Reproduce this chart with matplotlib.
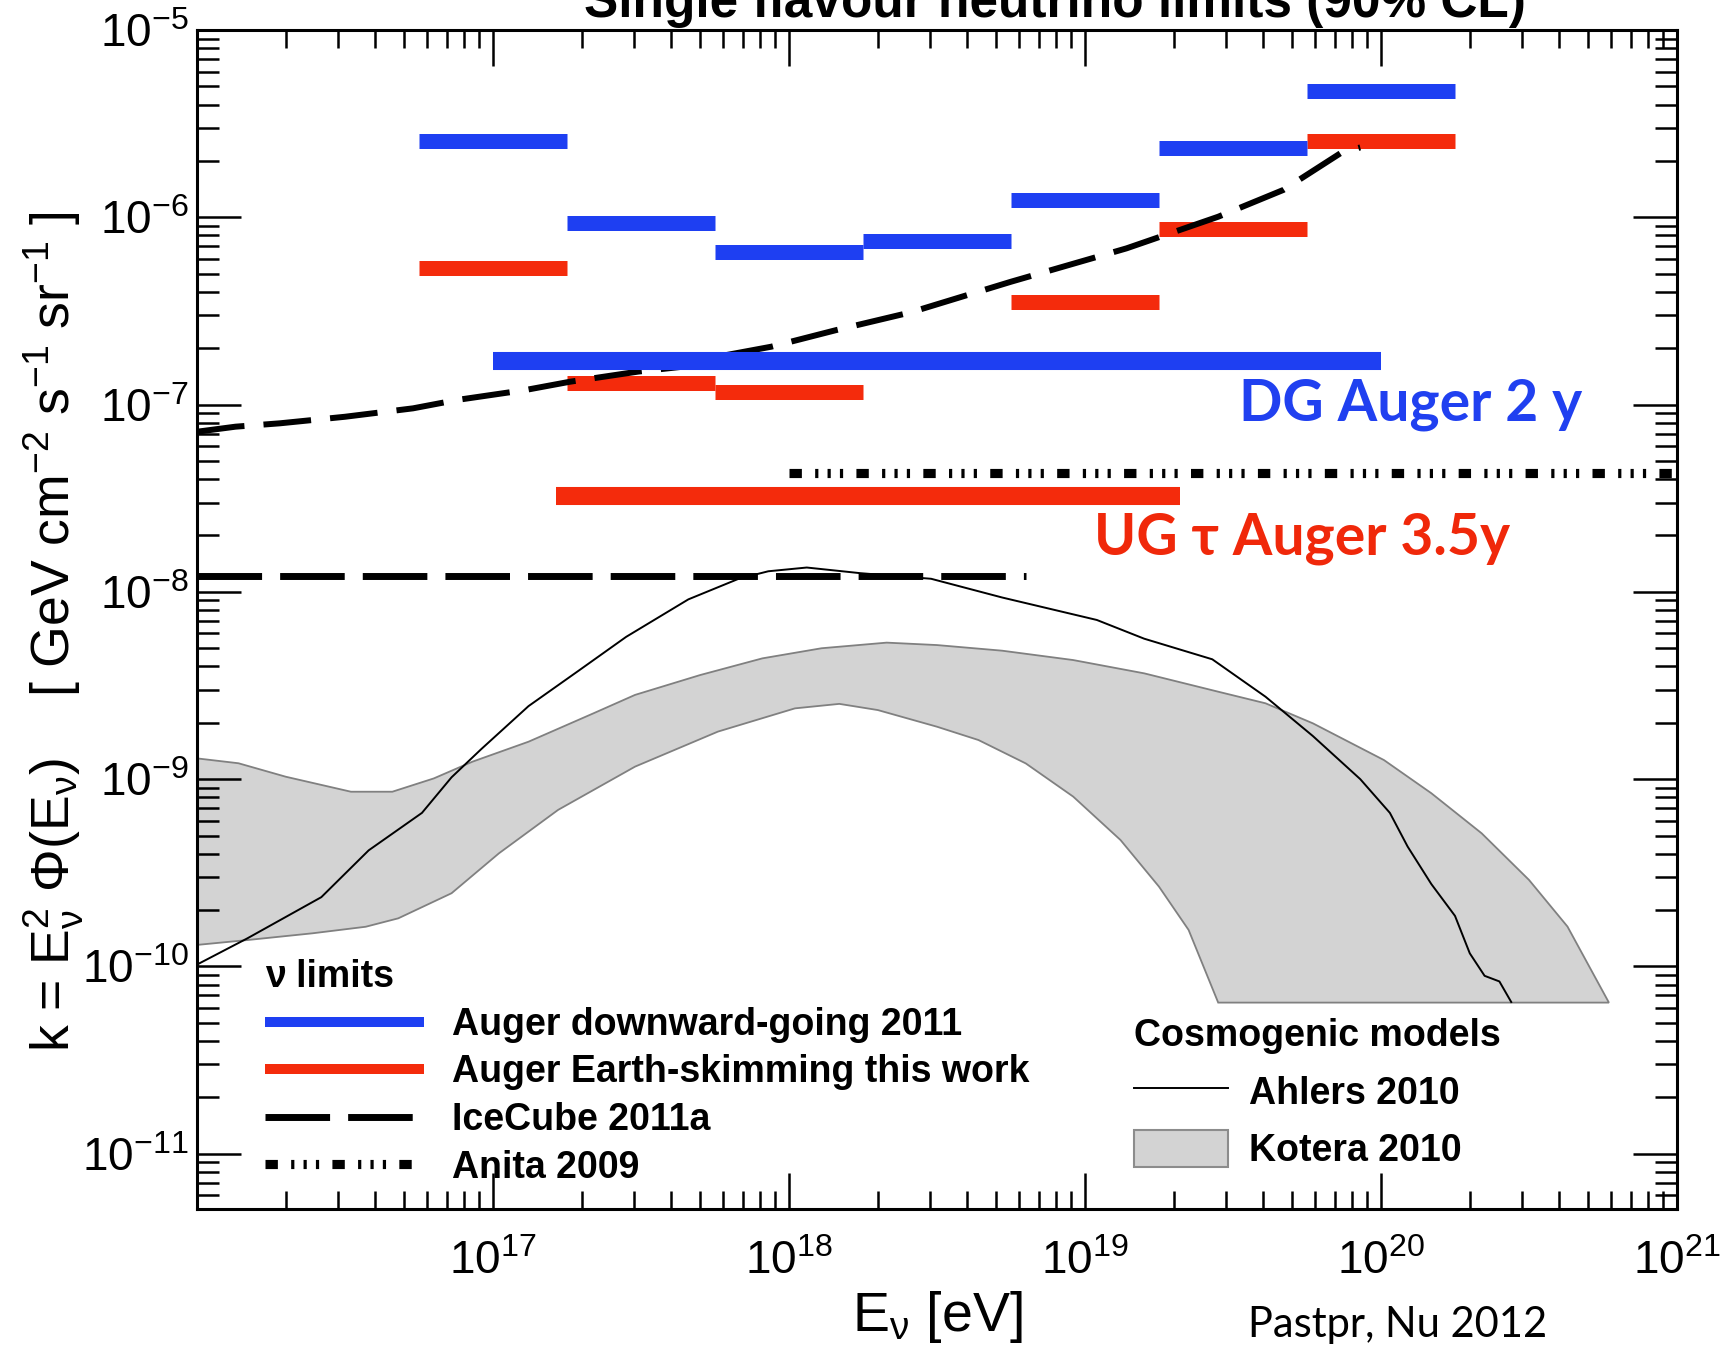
import numpy as np
import matplotlib
matplotlib.use("Agg")
import matplotlib.pyplot as plt
from matplotlib import font_manager as fm
from matplotlib.font_manager import FontProperties
from matplotlib.lines import Line2D
from matplotlib.patches import Patch
from matplotlib.ticker import LogLocator, NullFormatter, FixedLocator, FixedFormatter

# ------------------------------------------------------------------ data
# Auger downward-going 2011 (differential, half-decade bins) [eV], [GeV cm^-2 s^-1 sr^-1]
dg_E_lo = [5.62e16, 1.78e17, 5.62e17, 1.78e18, 5.62e18, 1.78e19, 5.62e19]
dg_E_hi = [1.78e17, 5.62e17, 1.78e18, 5.62e18, 1.78e19, 5.62e19, 1.78e20]
dg_k = [2.54e-6, 9.3e-7, 6.5e-7, 7.5e-7, 1.23e-6, 2.33e-6, 4.74e-6]
# Auger downward-going integrated (DG Auger 2 y)
dg_int_E = [1.0e17, 1.0e20]
dg_int_k = 1.71e-7

# Auger Earth-skimming (this work), differential
es_E_lo = [5.62e16, 1.78e17, 5.62e17, 5.62e18, 1.78e19, 5.62e19]
es_E_hi = [1.78e17, 5.62e17, 1.78e18, 1.78e19, 5.62e19, 1.78e20]
es_k = [5.33e-7, 1.30e-7, 1.17e-7, 3.52e-7, 8.66e-7, 2.55e-6]
# Earth-skimming integrated (UG tau Auger 3.5 y)
es_int_E = [1.63e17, 2.09e19]
es_int_k = 3.27e-8

# IceCube 2011a integrated and differential limits
ic_int_E = [1.0e16, 6.3e18]
ic_int_k = 1.21e-8
ic_diff_logE = [16.0, 16.13, 16.28, 16.5, 16.73, 16.88, 17.11, 17.26, 17.49, 17.64,
                17.79, 17.94, 18.16, 18.41, 18.75, 19.14, 19.45, 19.67, 19.87, 19.93]
ic_diff_logk = [-7.145, -7.118, -7.100, -7.065, -7.020, -6.975, -6.922, -6.878, -6.824, -6.798,
                -6.735, -6.691, -6.602, -6.508, -6.344, -6.166, -5.997, -5.854, -5.651, -5.627]

# Anita 2009
anita_E = [1.0e18, 1.0e21]
anita_k = 4.33e-8

# Ahlers 2010 cosmogenic model
ahlers_logE = [16.0, 16.17, 16.42, 16.58, 16.76, 16.86, 16.96, 17.12, 17.29, 17.45, 17.66,
               17.83, 17.93, 18.06, 18.24, 18.48, 18.72, 19.04, 19.20, 19.43, 19.61, 19.77,
               19.93, 20.03, 20.09, 20.17, 20.25, 20.30, 20.35, 20.40, 20.44]
ahlers_logk = [-9.99, -9.85, -9.63, -9.38, -9.18, -8.99, -8.84, -8.61, -8.42, -8.24, -8.04,
               -7.93, -7.89, -7.87, -7.90, -7.93, -8.03, -8.15, -8.25, -8.36, -8.56, -8.77,
               -9.00, -9.18, -9.36, -9.56, -9.73, -9.93, -10.05, -10.08, -10.19]

# Kotera 2010 band (upper and lower edges)
kot_up_logE = [16.0, 16.14, 16.30, 16.52, 16.66, 16.80, 16.93, 17.12, 17.34, 17.48, 17.70,
               17.91, 18.11, 18.33, 18.50, 18.72, 18.96, 19.20, 19.45, 19.61, 19.77, 20.01,
               20.17, 20.34, 20.50, 20.63, 20.71, 20.77]
kot_up_logk = [-8.889, -8.915, -8.987, -9.067, -9.067, -8.996, -8.907, -8.800, -8.648, -8.550,
               -8.444, -8.355, -8.301, -8.271, -8.284, -8.314, -8.364, -8.435, -8.533, -8.595,
               -8.702, -8.898, -9.075, -9.289, -9.538, -9.787, -10.019, -10.193]
kot_lo_logE = [16.0, 16.17, 16.39, 16.57, 16.68, 16.86, 17.02, 17.22, 17.48, 17.76, 18.02,
               18.17, 18.30, 18.50, 18.64, 18.80, 18.96, 19.12, 19.25, 19.35, 19.45]
kot_lo_logk = [-9.885, -9.859, -9.823, -9.788, -9.743, -9.609, -9.396, -9.164, -8.933, -8.746,
               -8.622, -8.598, -8.631, -8.720, -8.791, -8.916, -9.093, -9.325, -9.574, -9.805,
               -10.193]

xtick_vals = [1e16, 1e17, 1e18, 1e19, 1e20, 1e21]
xtick_labels = ["", "$10^{17}$", "$10^{18}$", "$10^{19}$", "$10^{20}$", "$10^{21}$"]
ytick_vals = [1e-11, 1e-10, 1e-9, 1e-8, 1e-7, 1e-6, 1e-5]
ytick_labels = ["$10^{-11}$", "$10^{-10}$", "$10^{-9}$", "$10^{-8}$", "$10^{-7}$", "$10^{-6}$", "$10^{-5}$"]

# ------------------------------------------------------------------ style
names = {f.name for f in fm.fontManager.ttflist}
if "Liberation Sans Narrow" in names:
    NARROW, S = "Liberation Sans Narrow", 1.19
else:
    NARROW, S = "Liberation Sans", 1.0
CAL = ["Lato", "Noto Sans", "DejaVu Sans"]

plt.rcParams["font.family"] = [NARROW, "DejaVu Sans"]
plt.rcParams["mathtext.default"] = "regular"
plt.rcParams["axes.unicode_minus"] = False

BLUE = "#1E3FF2"
RED = "#F42B0C"

fig = plt.figure(figsize=(17.32, 13.51), dpi=100)
ax = fig.add_axes([197 / 1732, 142 / 1351, 1480 / 1732, 1179 / 1351])
ax.set_xscale("log")
ax.set_yscale("log")
ax.set_xlim(1e16, 1e21)
ax.set_ylim(5.07e-12, 1e-5)

# Kotera band
band_x = np.concatenate([10 ** np.array(kot_up_logE), 10 ** np.array(kot_lo_logE)[::-1]])
band_y = np.concatenate([10 ** np.array(kot_up_logk), 10 ** np.array(kot_lo_logk)[::-1]])
ax.fill(band_x, band_y, facecolor="#D3D3D3", edgecolor="#808080", lw=1.3, zorder=1)

# Ahlers
ax.plot(10 ** np.array(ahlers_logE), 10 ** np.array(ahlers_logk), color="black", lw=1.4, zorder=2)

# IceCube 2011a
ax.hlines(ic_int_k, ic_int_E[0], ic_int_E[1], colors="black", lw=5.0,
          linestyles=[(0, (9.3, 2.6))], zorder=3)
ic_line, = ax.plot(10 ** np.array(ic_diff_logE), 10 ** np.array(ic_diff_logk), color="black",
                   lw=4.3, zorder=4)
ic_line.set_dashes((8.0, 3.2))
ic_line.set_dash_capstyle("butt")

# Anita 2009
AN_DASH = (1.35, 1.45, 0.35, 1.0, 0.35, 1.0, 0.35, 1.45)
an_line, = ax.plot(anita_E, [anita_k, anita_k], color="black", lw=6.6, zorder=3)
an_line.set_dashes(AN_DASH)
an_line.set_dash_capstyle("butt")

# Auger Earth-skimming (red)
ax.hlines(es_k, es_E_lo, es_E_hi, colors=RED, lw=10.8, zorder=3)
ax.hlines(es_int_k, es_int_E[0], es_int_E[1], colors=RED, lw=13.0, zorder=3)
# Auger downward-going (blue)
ax.hlines(dg_k, dg_E_lo, dg_E_hi, colors=BLUE, lw=10.8, zorder=5)
ax.hlines(dg_int_k, dg_int_E[0], dg_int_E[1], colors=BLUE, lw=13.0, zorder=5)

# ------------------------------------------------------------------ axes cosmetics
for sp in ax.spines.values():
    sp.set_linewidth(2.2)
    sp.set_zorder(10)
ax.xaxis.set_major_locator(FixedLocator(xtick_vals))
ax.xaxis.set_major_formatter(FixedFormatter(xtick_labels))
ax.yaxis.set_major_locator(FixedLocator(ytick_vals))
ax.yaxis.set_major_formatter(FixedFormatter(ytick_labels))
ax.xaxis.set_minor_locator(LogLocator(base=10, subs=np.arange(2, 10), numticks=50))
ax.yaxis.set_minor_locator(LogLocator(base=10, subs=np.arange(2, 10), numticks=50))
ax.xaxis.set_minor_formatter(NullFormatter())
ax.yaxis.set_minor_formatter(NullFormatter())
ax.tick_params(axis="both", which="both", direction="in", top=True, right=True,
               colors="black", width=1.8)
ax.tick_params(axis="x", which="major", length=26, pad=22, labelsize=33 * S)
ax.tick_params(axis="x", which="minor", length=13)
ax.tick_params(axis="y", which="major", length=32, pad=6, labelsize=33 * S)
ax.tick_params(axis="y", which="minor", length=16)

ax.set_xlabel("$E_{ν}$ [eV]", fontsize=40 * S)
ax.xaxis.label.set_va("baseline")
ax.xaxis.set_label_coords(0.5, -0.1035)
ax.set_ylabel("k = $E_{ν}^{2}$ Φ($E_{ν}$)    [ GeV cm$^{-2}$ s$^{-1}$ sr$^{-1}$ ]", fontsize=38.5 * S)
ax.yaxis.label.set_va("baseline")
ax.yaxis.set_label_coords(-0.086, 0.49)

# title (cut off at the top as in the original)
fig.text(0.609, 0.9874, "Single flavour neutrino limits (90% CL)", ha="center", va="baseline",
         fontsize=37 * S, fontweight="bold")

# annotations
ax.text(0.704, 0.669, "DG Auger 2 y", transform=ax.transAxes, color="#2040F0",
        fontsize=41, fontweight="bold", family=CAL, va="baseline", ha="left")
ax.text(0.606, 0.555, "UG τ Auger 3.5y", transform=ax.transAxes, color="#F0280A",
        fontsize=41, fontweight="bold", family=CAL, va="baseline", ha="left")
fig.text(0.7206, 0.0107, "Pastpr, Nu 2012", fontsize=30, family=CAL, va="baseline", ha="left")

# ------------------------------------------------------------------ legends
lp = FontProperties(family=NARROW, weight="bold", size=27 * S)
h1 = [Line2D([], [], color=BLUE, lw=7.2, solid_capstyle="butt"),
      Line2D([], [], color=RED, lw=7.2, solid_capstyle="butt"),
      Line2D([], [], color="black", lw=5.0, dashes=(9.3, 2.6), dash_capstyle="butt"),
      Line2D([], [], color="black", lw=6.6, dashes=AN_DASH, dash_capstyle="butt")]
l1 = ["Auger downward-going 2011", "Auger Earth-skimming this work", "IceCube 2011a", "Anita 2009"]
leg1 = ax.legend(h1, l1, loc="upper left", bbox_to_anchor=(0.046, 0.212), frameon=False,
                 prop=lp, title="ν limits", title_fontproperties=lp, alignment="left",
                 handlelength=4.24, handletextpad=0.75, labelspacing=0.31, borderpad=0,
                 borderaxespad=0)
leg1.set_zorder(20)
ax.add_artist(leg1)

h2 = [Line2D([], [], color="black", lw=1.4),
      Patch(facecolor="#D3D3D3", edgecolor="#8C8C8C", lw=1.5)]
l2 = ["Ahlers 2010", "Kotera 2010"]
leg2 = ax.legend(h2, l2, loc="upper left", bbox_to_anchor=(0.633, 0.162), frameon=False,
                 prop=lp, title="Cosmogenic models", title_fontproperties=lp, alignment="left",
                 handlelength=2.5, handletextpad=0.58, labelspacing=0.5, handleheight=1.12,
                 borderpad=0, borderaxespad=0)
leg2.set_zorder(20)

fig.savefig("out.png", dpi=100)
